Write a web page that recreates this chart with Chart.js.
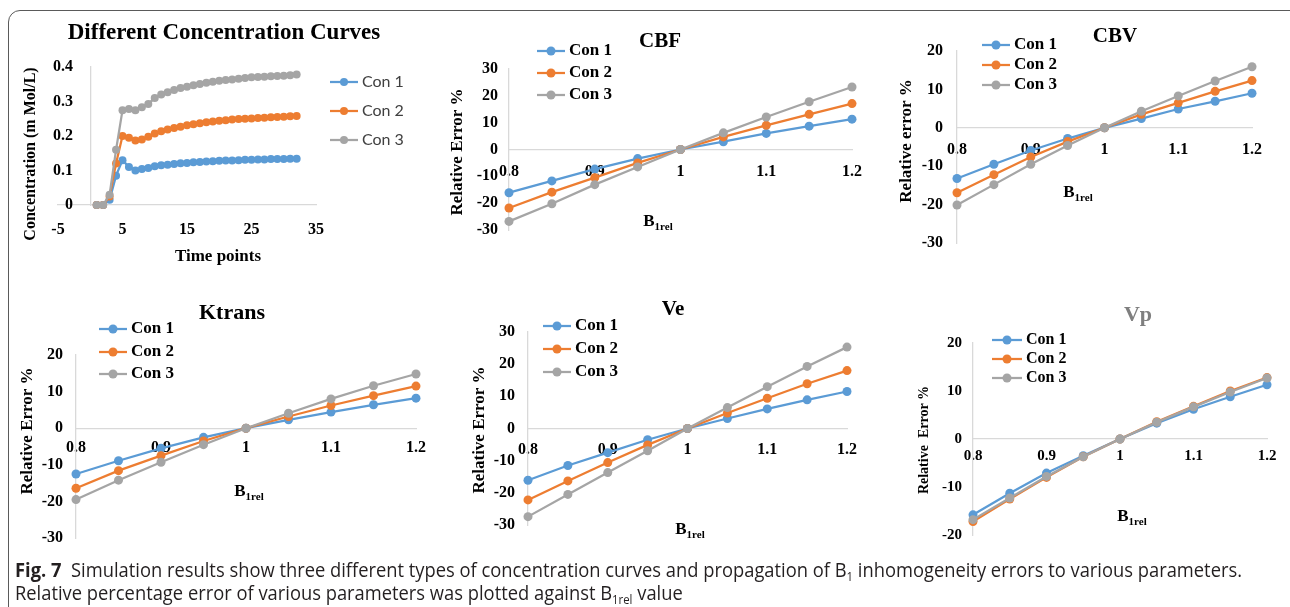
<!DOCTYPE html>
<html lang="en">
<head>
<meta charset="UTF-8">
<title>Fig. 7 Simulation results</title>
<script src="https://cdn.jsdelivr.net/npm/chart.js"></script>
<style>
    html, body { margin: 0; padding: 0; background: #fff; }
    body { width: 1290px; height: 607px; position: relative; overflow: hidden; }
    /* rounded figure frame, runs off the right and bottom edge like the original */
    .frame { position: absolute; left: 8px; top: 10px; width: 1300px; height: 620px;
             border: 1.5px solid #5a5a5a; border-radius: 12px; box-sizing: border-box; }
    canvas.plot { position: absolute; left: 0; top: 0; }
    .caption { position: absolute; left: 15px; top: 558px; font-family: "Open Sans", sans-serif;
               font-size: 19.5px; line-height: 23px; color: #231f20; white-space: nowrap;
               transform-origin: 0 0; }
    .caption b { font-weight: 700; }
    .caption sub { font-size: 0.62em; vertical-align: -0.3em; line-height: 0; }
</style>
</head>
<body>
<div class="frame"></div>
<canvas class="plot" id="conc" width="1290" height="607"></canvas>
<canvas class="plot" id="cbf" width="1290" height="607"></canvas>
<canvas class="plot" id="cbv" width="1290" height="607"></canvas>
<canvas class="plot" id="ktrans" width="1290" height="607"></canvas>
<canvas class="plot" id="ve" width="1290" height="607"></canvas>
<canvas class="plot" id="vp" width="1290" height="607"></canvas>

<div class="caption" id="caption">
    <div><span id="capLine1"><b>Fig. 7</b>&nbsp; Simulation results show three different types of concentration curves and propagation of B<sub>1</sub> inhomogeneity errors to various parameters.</span></div>
    <div>Relative percentage error of various parameters was plotted against B<sub>1rel</sub> value</div>
</div>

<script>
    // ---- data ----
    const seriesNames = ['Con 1', 'Con 2', 'Con 3'];

    const timePoints = [1, 2, 3, 4, 5, 6, 7, 8, 9, 10, 11, 12, 13, 14, 15, 16,
                        17, 18, 19, 20, 21, 22, 23, 24, 25, 26, 27, 28, 29, 30, 31, 32];
    const conc1 = [0, 0, 0.015, 0.085, 0.13, 0.11, 0.10, 0.104, 0.107, 0.112, 0.115, 0.117, 0.119, 0.121, 0.122, 0.124,
                   0.125, 0.126, 0.127, 0.128, 0.129, 0.129, 0.130, 0.131, 0.131, 0.132, 0.132, 0.133, 0.133, 0.133, 0.134, 0.134];
    const conc2 = [0, 0, 0.025, 0.12, 0.20, 0.195, 0.187, 0.19, 0.198, 0.207, 0.214, 0.219, 0.223, 0.227, 0.231, 0.234,
                   0.237, 0.24, 0.242, 0.244, 0.246, 0.248, 0.249, 0.25, 0.251, 0.252, 0.253, 0.254, 0.255, 0.256, 0.257, 0.258];
    const conc3 = [0, 0, 0.03, 0.16, 0.275, 0.278, 0.275, 0.283, 0.293, 0.31, 0.32, 0.327, 0.333, 0.339, 0.343, 0.347,
                   0.351, 0.354, 0.357, 0.36, 0.362, 0.364, 0.366, 0.368, 0.37, 0.371, 0.372, 0.373, 0.374, 0.375, 0.376, 0.378];

    const b1rel = [0.8, 0.85, 0.9, 0.95, 1, 1.05, 1.1, 1.15, 1.2];
    const cbf1 = [-16.1, -11.7, -7.3, -3.4, 0, 2.9, 6.0, 8.7, 11.3];
    const cbf2 = [-21.8, -15.9, -10.5, -5.0, 0, 4.7, 9.0, 13.1, 17.1];
    const cbf3 = [-26.8, -20.2, -13.1, -6.5, 0, 6.2, 12.1, 17.8, 23.3];
    const cbv1 = [-13.2, -9.5, -5.9, -2.8, 0, 2.4, 4.9, 6.9, 9.0];
    const cbv2 = [-16.9, -12.2, -7.6, -3.6, 0, 3.5, 6.5, 9.5, 12.3];
    const cbv3 = [-20.1, -14.8, -9.5, -4.6, 0, 4.3, 8.3, 12.2, 15.9];
    const ktrans1 = [-12.5, -8.9, -5.5, -2.5, 0, 2.3, 4.4, 6.4, 8.2];
    const ktrans2 = [-16.4, -11.6, -7.5, -3.5, 0, 3.2, 6.2, 8.9, 11.5];
    const ktrans3 = [-19.5, -14.2, -9.3, -4.5, 0, 4.1, 8.0, 11.6, 14.8];
    const ve1 = [-16.1, -11.5, -7.5, -3.5, 0, 3.1, 6.1, 8.9, 11.5];
    const ve2 = [-22.2, -16.3, -10.6, -5.1, 0, 4.8, 9.4, 13.9, 18.0];
    const ve3 = [-27.4, -20.5, -13.7, -6.9, 0, 6.5, 13.0, 19.3, 25.3];
    const vp1 = [-15.8, -11.3, -7.1, -3.5, 0, 3.3, 6.2, 8.8, 11.3];
    const vp2 = [-17.2, -12.5, -8.0, -3.7, 0, 3.6, 6.8, 10.0, 12.8];
    const vp3 = [-16.8, -12.3, -7.8, -3.7, 0, 3.5, 6.7, 9.8, 12.7];

    // tick labels
    const timeTicks = [-5, 5, 15, 25, 35];
    const concTicks = [0, 0.1, 0.2, 0.3, 0.4];
    const b1Ticks = [0.8, 0.9, 1, 1.1, 1.2];
    const errTicks30 = [-30, -20, -10, 0, 10, 20, 30];
    const errTicks20 = [-30, -20, -10, 0, 10, 20];
    const errTicksVp = [-20, -10, 0, 10, 20];

    // ---- drawing ----
    const W = 1290, H = 607;
    const SERIF = '"Liberation Serif", "Times New Roman", serif';
    const seriesColors = ['#5b9bd5', '#ed7d31', '#a5a5a5'];
    const axisGrey = '#d9d9d9';
    const Y_BOX = 60;   // room kept for the left value labels
    const X_BOX = 40;   // room kept for bottom category labels

    Chart.defaults.font.family = SERIF;

    // titles, axis titles and legend are drawn on top of each chart
    function decor(spec) {
        return {
            id: 'decor',
            afterDraw(chart) {
                const ctx = chart.ctx;
                const d = spec.deco;
                ctx.save();
                ctx.textAlign = 'center';
                ctx.textBaseline = 'middle';

                ctx.fillStyle = d.titleColor || '#000';
                ctx.font = 'bold ' + d.titleSize + 'px ' + SERIF;
                ctx.fillText(spec.title, d.title[0], d.title[1]);

                ctx.fillStyle = '#000';
                ctx.save();
                ctx.translate(d.yTitle[0], d.yTitle[1]);
                ctx.rotate(-Math.PI / 2);
                ctx.font = 'bold ' + d.yTitleSize + 'px ' + SERIF;
                ctx.fillText(spec.yTitle, 0, 0);
                ctx.restore();

                if (spec.xSub) {
                    // B with subscript 1rel
                    ctx.font = 'bold 17px ' + SERIF;
                    const wMain = ctx.measureText(spec.xTitle).width;
                    ctx.font = 'bold 11px ' + SERIF;
                    const wSub = ctx.measureText(spec.xSub).width;
                    const x0 = d.xTitle[0] - (wMain + wSub) / 2;
                    ctx.textAlign = 'left';
                    ctx.font = 'bold 17px ' + SERIF;
                    ctx.fillText(spec.xTitle, x0, d.xTitle[1]);
                    ctx.font = 'bold 11px ' + SERIF;
                    ctx.fillText(spec.xSub, x0 + wMain, d.xTitle[1] + 5);
                } else {
                    ctx.font = 'bold 17px ' + SERIF;
                    ctx.fillText(spec.xTitle, d.xTitle[0], d.xTitle[1]);
                }

                // legend: line with a marker, then the series name
                ctx.textAlign = 'left';
                chart.data.datasets.forEach((ds, i) => {
                    const y = d.legendRows[i];
                    ctx.strokeStyle = ds.borderColor;
                    ctx.lineWidth = 2.25;
                    ctx.beginPath();
                    ctx.moveTo(d.legendX, y);
                    ctx.lineTo(d.legendX + d.legendLen, y);
                    ctx.stroke();
                    ctx.fillStyle = ds.borderColor;
                    ctx.beginPath();
                    ctx.arc(d.legendX + d.legendLen / 2, y, spec.pointRadius, 0, Math.PI * 2);
                    ctx.fill();
                    ctx.fillStyle = d.legendColor;
                    ctx.font = d.legendFont;
                    ctx.fillText(ds.label, d.legendX + d.legendLen + 4, y);
                });
                ctx.restore();
            }
        };
    }

    function buildChart(id, spec) {
        const a = spec.area;
        const datasets = spec.series.map((s, i) => ({
            label: seriesNames[i],
            data: spec.xs.map((x, k) => ({ x: x, y: s[k] })),
            borderColor: seriesColors[i],
            backgroundColor: seriesColors[i],
            pointBackgroundColor: seriesColors[i],
            pointBorderColor: seriesColors[i],
            pointBorderWidth: 0,
            pointRadius: spec.pointRadius,
            borderWidth: 2.25,
            tension: 0,
            clip: false,
            order: 3 - i
        }));
        const tickFont = { family: SERIF, weight: 'bold', size: spec.tickSize };
        const yLeft = spec.yPos === 'left';
        const xBottom = spec.xPos === 'bottom';

        return new Chart(document.getElementById(id), {
            type: 'line',
            data: { datasets: datasets },
            options: {
                responsive: false,
                animation: false,
                events: [],
                layout: { padding: {
                    left: a.l - (yLeft ? Y_BOX : 0), right: W - a.r,
                    top: a.t, bottom: H - a.b - (xBottom ? X_BOX : 0) } },
                plugins: { legend: { display: false }, tooltip: { enabled: false } },
                scales: {
                    x: {
                        type: 'linear',
                        min: spec.xMin, max: spec.xMax,
                        position: spec.xPos,
                        afterFit: s => { s.height = X_BOX; },
                        afterBuildTicks: s => { s.ticks = spec.xTicks.map(v => ({ value: v })); },
                        grid: { display: false, drawTicks: false },
                        border: { color: axisGrey, width: 1.3 },
                        ticks: { padding: spec.xPad, font: tickFont, color: '#000', callback: v => String(v),
                                 maxRotation: 0, autoSkip: false }
                    },
                    y: {
                        type: 'linear',
                        min: spec.yMin, max: spec.yMax,
                        position: spec.yPos,
                        afterFit: s => { s.width = Y_BOX; },
                        afterBuildTicks: s => { s.ticks = spec.yTicks.map(v => ({ value: v })); },
                        grid: { display: false, drawTicks: false },
                        border: { color: axisGrey, width: 1.3 },
                        ticks: { padding: spec.yPad, font: tickFont, color: '#000',
                                 callback: v => String(v) + (spec.yGap || ''), autoSkip: false }
                    }
                }
            },
            plugins: [decor(spec)]
        });
    }

    const boldLegend = 'bold 17px ' + SERIF;

    // the value axis of this one crosses at time 0, its labels sit an em space off the line
    buildChart('conc', {
        title: 'Different Concentration Curves', xTitle: 'Time points', yTitle: 'Concentration (m Mol/L)',
        xs: timePoints, series: [conc1, conc2, conc3], pointRadius: 4, tickSize: 16,
        area: { l: 58, r: 316, t: 67, b: 205 },
        xMin: -5, xMax: 35, xTicks: timeTicks, xPos: 'bottom', xPad: 15,
        yMin: 0, yMax: 0.4, yTicks: concTicks, yPos: { x: 0 }, yPad: 0, yGap: '\u2003\u200A',
        deco: { title: [224, 33], titleSize: 23, xTitle: [218, 257], yTitle: [31, 154], yTitleSize: 16,
                legendX: 330, legendLen: 28, legendRows: [82, 111, 140],
                legendFont: '16px Lato, "Open Sans", sans-serif', legendColor: '#404040' }
    });

    buildChart('cbf', {
        title: 'CBF', xTitle: 'B', xSub: '1rel', yTitle: 'Relative Error %',
        xs: b1rel, series: [cbf1, cbf2, cbf3], pointRadius: 4.5, tickSize: 16,
        area: { l: 509, r: 852, t: 69, b: 230 },
        xMin: 0.8, xMax: 1.2, xTicks: b1Ticks, xPos: { y: 0 }, xPad: 13,
        yMin: -30, yMax: 30, yTicks: errTicks30, yPos: 'left', yPad: 11,
        deco: { title: [660, 42], titleSize: 21, xTitle: [658, 222], yTitle: [458, 152], yTitleSize: 17,
                legendX: 537, legendLen: 28, legendRows: [51, 73, 95],
                legendFont: boldLegend, legendColor: '#000' }
    });

    buildChart('cbv', {
        title: 'CBV', xTitle: 'B', xSub: '1rel', yTitle: 'Relative error %',
        xs: b1rel, series: [cbv1, cbv2, cbv3], pointRadius: 4.5, tickSize: 16,
        area: { l: 957, r: 1252, t: 51, b: 243 },
        xMin: 0.8, xMax: 1.2, xTicks: b1Ticks, xPos: { y: 0 }, xPad: 12,
        yMin: -30, yMax: 20, yTicks: errTicks20, yPos: 'left', yPad: 14,
        deco: { title: [1115, 37], titleSize: 21, xTitle: [1078, 193], yTitle: [907, 141], yTitleSize: 17,
                legendX: 982, legendLen: 28, legendRows: [45, 65, 85],
                legendFont: boldLegend, legendColor: '#000' }
    });

    buildChart('ktrans', {
        title: 'Ktrans', xTitle: 'B', xSub: '1rel', yTitle: 'Relative Error %',
        xs: b1rel, series: [ktrans1, ktrans2, ktrans3], pointRadius: 4.5, tickSize: 16,
        area: { l: 76, r: 416, t: 355, b: 538 },
        xMin: 0.8, xMax: 1.2, xTicks: b1Ticks, xPos: { y: 0 }, xPad: 10,
        yMin: -30, yMax: 20, yTicks: errTicks20, yPos: 'left', yPad: 13,
        deco: { title: [232, 313], titleSize: 22, xTitle: [249, 492], yTitle: [28, 431], yTitleSize: 17,
                legendX: 99, legendLen: 28, legendRows: [329, 352, 374],
                legendFont: boldLegend, legendColor: '#000' }
    });

    buildChart('ve', {
        title: 'Ve', xTitle: 'B', xSub: '1rel', yTitle: 'Relative Error %',
        xs: b1rel, series: [ve1, ve2, ve3], pointRadius: 4.5, tickSize: 16,
        area: { l: 528, r: 847, t: 332, b: 525 },
        xMin: 0.8, xMax: 1.2, xTicks: b1Ticks, xPos: { y: 0 }, xPad: 12,
        yMin: -30, yMax: 30, yTicks: errTicks30, yPos: 'left', yPad: 13,
        deco: { title: [673, 310], titleSize: 21, xTitle: [690, 530], yTitle: [480, 430], yTitleSize: 17,
                legendX: 543, legendLen: 28, legendRows: [326, 349, 372],
                legendFont: boldLegend, legendColor: '#000' }
    });

    buildChart('vp', {
        title: 'Vp', xTitle: 'B', xSub: '1rel', yTitle: 'Relative  Error %',
        xs: b1rel, series: [vp1, vp2, vp3], pointRadius: 4.5, tickSize: 15,
        area: { l: 973, r: 1267, t: 343, b: 535 },
        xMin: 0.8, xMax: 1.2, xTicks: b1Ticks, xPos: { y: 0 }, xPad: 8,
        yMin: -20, yMax: 20, yTicks: errTicksVp, yPos: 'left', yPad: 11,
        deco: { title: [1138, 315], titleSize: 22, titleColor: '#7f7f7f', xTitle: [1132, 517],
                yTitle: [924, 440], yTitleSize: 14,
                legendX: 992, legendLen: 30, legendRows: [340, 359, 378],
                legendFont: 'bold 16px ' + SERIF, legendColor: '#000' }
    });

    // squeeze the caption to the width of the printed line
    const capLine1 = document.getElementById('capLine1');
    const capW = capLine1.getBoundingClientRect().width;
    document.getElementById('caption').style.transform = 'scaleX(' + (1227 / capW) + ')';
</script>
</body>
</html>
